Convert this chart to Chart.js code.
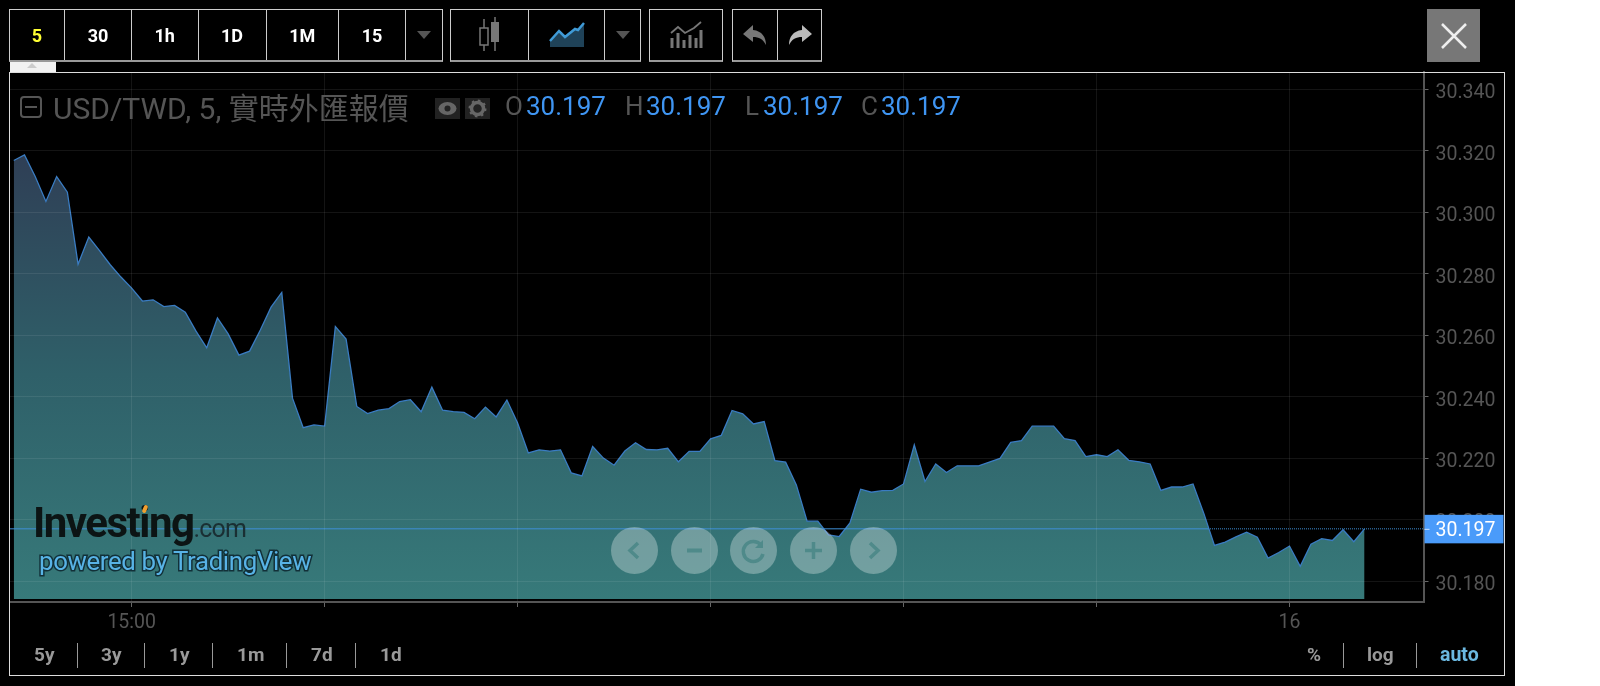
<!DOCTYPE html>
<html lang="zh-Hant">
<head>
  <meta charset="UTF-8" />
  <title>USD/TWD, 5</title>
  <script src="https://cdn.jsdelivr.net/npm/chart.js"></script>
  <style>
    html, body { margin: 0; width: 1600px; height: 686px; overflow: hidden; background: #fff; font-family: Roboto, sans-serif; }
    #page { position: absolute; left: 0; top: 0; width: 1515px; height: 686px; background: #000; }
    #chart { position: absolute; left: 0; top: 0; }
    .abs { position: absolute; white-space: nowrap; }

    .group { position: absolute; top: 9px; height: 50px; display: flex; border: 1px solid #ccc; border-bottom: 2px solid #999; }
    .cell { height: 100%; display: flex; align-items: center; justify-content: center; border-left: 1px solid #ccc; box-sizing: border-box; color: #fff; font-weight: 700; font-size: 18px; }
    .cell:first-child { border-left: none; }
    .arrow { width: 0; height: 0; border-left: 7px solid transparent; border-right: 7px solid transparent; border-top: 8px solid #555; }

    #tab { position: absolute; left: 10px; top: 62px; width: 46px; height: 10px; background: #f2f2f2; }
    #tab i { position: absolute; left: 17px; top: 1px; width: 0; height: 0; border-left: 5px solid transparent; border-right: 5px solid transparent; border-bottom: 5px solid #ccc; }
    #frame { position: absolute; left: 9px; top: 72px; width: 1494px; height: 602px; border: 1.5px solid #ddd; pointer-events: none; }
    #close { position: absolute; left: 1427px; top: 9px; width: 53px; height: 53px; background: #777; }

    .legend { font-size: 26px; line-height: 30px; top: 91px; color: #555; }
    .legend.title { font-size: 30px; line-height: 34px; top: 89px; }
    .legend.val { color: #3f95f2; }
    .iconbox { position: absolute; top: 98px; width: 25px; height: 21px; background: #222; }

    .range { top: 643px; height: 25px; line-height: 24px; font-size: 19px; font-weight: 700; color: #999; }
    .sep { position: absolute; top: 643px; width: 1px; height: 25px; background: #999; }

    .nav { position: absolute; top: 527px; width: 47px; height: 47px; border-radius: 50%; background: rgba(255,255,255,0.3); }
    .nav svg { position: absolute; left: 0; top: 0; }

    #inv { left: 33px; top: 498px; font-size: 42px; line-height: 50px; font-weight: 700; letter-spacing: -1.5px; color: #0c1414; }
    #inv span { font-size: 25px; font-weight: 400; letter-spacing: -0.8px; color: #1a2f33; }
    #flame { position: absolute; left: 143px; top: 505px; width: 4px; height: 8px; background: #f0a030; border-radius: 2px; transform: rotate(25deg); }
    #tv { left: 39px; top: 546px; font-size: 25.8px; line-height: 30px; letter-spacing: -0.35px; color: #58b3e6; -webkit-text-stroke: 3px #123038; paint-order: stroke fill; }
  </style>
</head>
<body>
  <div id="page">
    <canvas id="chart" width="1515" height="686"></canvas>

    <div class="group" style="left:9px">
      <div class="cell" style="width:54px;color:#ffff33">5</div>
      <div class="cell" style="width:67px">30</div>
      <div class="cell" style="width:66.5px">1h</div>
      <div class="cell" style="width:68px">1D</div>
      <div class="cell" style="width:72.5px">1M</div>
      <div class="cell" style="width:67px">15</div>
      <div class="cell" style="width:37px"><div class="arrow"></div></div>
    </div>
    <div class="group" style="left:450px">
      <div class="cell" style="width:77px">
        <svg width="30" height="38" viewBox="0 0 30 38">
          <path d="M9 3V35" stroke="#777" stroke-width="1.5"/>
          <rect x="5" y="12" width="8" height="17" fill="#000" stroke="#777" stroke-width="1.5"/>
          <path d="M20 1V35" stroke="#777" stroke-width="1.5"/>
          <rect x="16" y="6" width="8" height="20" fill="#777"/>
        </svg>
      </div>
      <div class="cell" style="width:76px">
        <svg width="36" height="26" viewBox="0 0 36 26">
          <path d="M1 19L10 9L16 15L26 7L29 8L35 1V25H1Z" fill="#1f4258"/>
          <path d="M1 19L10 9L16 15L26 7L29 8L35 1" fill="none" stroke="#3f9ad6" stroke-width="2.5"/>
        </svg>
      </div>
      <div class="cell" style="width:36px"><div class="arrow"></div></div>
    </div>
    <div class="group" style="left:649px">
      <div class="cell" style="width:72px">
        <svg width="34" height="28" viewBox="0 0 34 28">
          <path d="M2 12L9 6L16 12L25 7L32 1" fill="none" stroke="#777" stroke-width="1.8"/>
          <path d="M3 27V17M9 27V12M15 27V19M21 27V14M27 27V17M32 27V9" stroke="#777" stroke-width="3"/>
        </svg>
      </div>
    </div>
    <div class="group" style="left:732px">
      <div class="cell" style="width:44px">
        <svg width="26" height="22" viewBox="0 0 26 22"><path d="M11 1L1 10L11 18V13C17 13 21 15 24 21C24 13 20 7 11 6Z" fill="#777"/></svg>
      </div>
      <div class="cell" style="width:44px">
        <svg width="26" height="22" viewBox="0 0 26 22"><path d="M15 1L25 10L15 18V13C9 13 5 15 2 21C2 13 6 7 15 6Z" fill="#bbb"/></svg>
      </div>
    </div>

    <div id="close">
      <svg width="53" height="53" viewBox="0 0 53 53"><path d="M15 15L39 39M39 15L15 39" stroke="#eee" stroke-width="2.5"/></svg>
    </div>

    <div id="tab"><i></i></div>
    <div id="frame"></div>

    <svg class="abs" style="left:19px;top:95px" width="24" height="24" viewBox="0 0 24 24">
      <rect x="2" y="2" width="20" height="20" rx="3" fill="none" stroke="#555" stroke-width="2"/>
      <path d="M6 12H18" stroke="#555" stroke-width="2"/>
    </svg>
    <div class="abs legend title" style="left:53px">USD/TWD, 5, <span style="font-family:'Noto Sans CJK TC'">實時外匯報價</span></div>
    <div class="iconbox" style="left:435px">
      <svg width="25" height="21" viewBox="0 0 25 21"><ellipse cx="12.5" cy="10.5" rx="9" ry="6.5" fill="#666"/><circle cx="12.5" cy="10.5" r="3" fill="#222"/></svg>
    </div>
    <div class="iconbox" style="left:465px">
      <svg width="25" height="21" viewBox="0 0 25 21"><circle cx="12.5" cy="10.5" r="6" fill="none" stroke="#666" stroke-width="3.5"/><circle cx="12.5" cy="10.5" r="8" fill="none" stroke="#666" stroke-width="2" stroke-dasharray="2.5 3.8"/></svg>
    </div>
    <div class="abs legend" style="left:505px">O</div><div class="abs legend val" style="left:526px">30.197</div>
    <div class="abs legend" style="left:625px">H</div><div class="abs legend val" style="left:646px">30.197</div>
    <div class="abs legend" style="left:745px">L</div><div class="abs legend val" style="left:763px">30.197</div>
    <div class="abs legend" style="left:861px">C</div><div class="abs legend val" style="left:881px">30.197</div>

    <div class="abs" id="inv">Investing<span>.com</span></div>
    <div id="flame"></div>
    <div class="abs" id="tv">powered by TradingView</div>

    <div class="nav" style="left:611px"><svg width="47" height="47" viewBox="0 0 47 47"><path d="M27 16L19 23.5L27 31" fill="none" stroke="#4f8a8a" stroke-width="3.5"/></svg></div>
    <div class="nav" style="left:671px"><svg width="47" height="47" viewBox="0 0 47 47"><path d="M16 23.5H31" stroke="#4f8a8a" stroke-width="4"/></svg></div>
    <div class="nav" style="left:730px"><svg width="47" height="47" viewBox="0 0 47 47"><path d="M31 18A10 10 0 1 0 33 27" fill="none" stroke="#4f8a8a" stroke-width="3.5"/><path d="M33 13V21H25Z" fill="#4f8a8a"/></svg></div>
    <div class="nav" style="left:790px"><svg width="47" height="47" viewBox="0 0 47 47"><path d="M15 23.5H32M23.5 15V32" stroke="#4f8a8a" stroke-width="3.5"/></svg></div>
    <div class="nav" style="left:850px"><svg width="47" height="47" viewBox="0 0 47 47"><path d="M20 16L28 23.5L20 31" fill="none" stroke="#4f8a8a" stroke-width="3.5"/></svg></div>

    <div class="abs range" style="left:34px">5y</div><div class="sep" style="left:77px"></div>
    <div class="abs range" style="left:101px">3y</div><div class="sep" style="left:144px"></div>
    <div class="abs range" style="left:169px">1y</div><div class="sep" style="left:212px"></div>
    <div class="abs range" style="left:237px">1m</div><div class="sep" style="left:286px"></div>
    <div class="abs range" style="left:311px">7d</div><div class="sep" style="left:355px"></div>
    <div class="abs range" style="left:380px">1d</div>
    <div class="abs range" style="left:1307px">%</div><div class="sep" style="left:1343px"></div>
    <div class="abs range" style="left:1367px">log</div><div class="sep" style="left:1416px"></div>
    <div class="abs range" style="left:1440px;font-size:19.5px;color:#6bb8e0">auto</div>
  </div>

  <script>
    // closes, one per 5 minute bar
    const closes = [
      30.3168, 30.3186, 30.3116, 30.3035, 30.3116, 30.3065, 30.2831, 30.2919, 30.2875, 30.2829,
      30.2789, 30.2753, 30.2711, 30.2715, 30.2693, 30.2697, 30.2675, 30.2613, 30.2559, 30.2656,
      30.2604, 30.2535, 30.2548, 30.2617, 30.2691, 30.2739, 30.2395, 30.2299, 30.2308, 30.2304,
      30.2628, 30.2587, 30.2368, 30.2345, 30.2356, 30.2361, 30.2384, 30.2390, 30.2351, 30.2431,
      30.2356, 30.2351, 30.2349, 30.2328, 30.2366, 30.2334, 30.2389, 30.2314, 30.2217, 30.2227,
      30.2223, 30.2227, 30.2152, 30.2142, 30.2238, 30.2200, 30.2177, 30.2223, 30.2250, 30.2228,
      30.2227, 30.2232, 30.2188, 30.2222, 30.2222, 30.2263, 30.2274, 30.2355, 30.2344, 30.2311,
      30.2319, 30.2192, 30.2187, 30.2113, 30.1995, 30.1995, 30.1950, 30.1945, 30.1989, 30.2099,
      30.2089, 30.2094, 30.2095, 30.2116, 30.2243, 30.2124, 30.2181, 30.2153, 30.2175, 30.2175,
      30.2175, 30.2187, 30.2199, 30.2251, 30.2257, 30.2304, 30.2304, 30.2304, 30.2263, 30.2257,
      30.2205, 30.2211, 30.2205, 30.2227, 30.2193, 30.2188, 30.2181, 30.2095, 30.2106, 30.2106,
      30.2116, 30.2021, 30.1916, 30.1927, 30.1944, 30.1959, 30.1943, 30.1875, 30.1893, 30.1914,
      30.1848, 30.1920, 30.1938, 30.1932, 30.1967, 30.1928, 30.1970
    ];
    const lastPrice = 30.197;
    const priceTicks = [30.18, 30.2, 30.22, 30.24, 30.26, 30.28, 30.3, 30.32, 30.34];
    const timeTickBars = [11, 29, 47, 65, 83, 101, 119];
    const timeTickLabels = ['15:00', '', '', '', '', '', '16'];

    const xMin = -0.35, xMax = 131.5;
    const yMin = 30.1732, yMax = 30.3456;
    const areaBase = 30.1742;
    const dotsFromBar = 111.4; // price line turns dotted once it leaves the area

    function areaGradient(context) {
      const c = context.chart;
      if (!c.chartArea) return '#2f5f69';
      const g = c.ctx.createLinearGradient(0, 150, 0, 600);
      g.addColorStop(0, '#2f3e55');
      g.addColorStop(0.5, '#2f6069');
      g.addColorStop(1, '#377a7a');
      return g;
    }

    // blue label for the last price, sits on top of the axis text
    const lastPriceBox = {
      id: 'lastPriceBox',
      afterDraw(c) {
        const y = c.scales.y.getPixelForValue(lastPrice);
        const ctx = c.ctx;
        ctx.save();
        ctx.fillStyle = '#4a9bfa';
        ctx.fillRect(c.chartArea.right + 1, y - 14, 79, 28.5);
        ctx.fillStyle = '#cfe4ff';
        ctx.fillRect(c.chartArea.right + 1, y, 5, 1);
        ctx.fillStyle = '#fff';
        ctx.font = '19.5px Roboto';
        ctx.textBaseline = 'middle';
        ctx.fillText(lastPrice.toFixed(3), c.chartArea.right + 12, y + 2);
        ctx.restore();
      }
    };

    new Chart(document.getElementById('chart'), {
      type: 'line',
      data: {
        datasets: [
          {
            order: 1,
            data: closes.map((v, i) => ({ x: i, y: v })),
            borderColor: '#3a7cc2',
            borderWidth: 1.3,
            backgroundColor: areaGradient,
            fill: { value: areaBase },
            pointRadius: 0,
            tension: 0
          },
          {
            order: 0,
            data: [xMin, dotsFromBar, xMax].map(x => ({ x: x, y: lastPrice })),
            borderColor: '#3f8fd6',
            borderWidth: 1,
            segment: { borderDash: ctx => ctx.p0.parsed.x >= dotsFromBar ? [1, 1] : undefined },
            pointRadius: 0,
            fill: false
          }
        ]
      },
      options: {
        responsive: false,
        animation: false,
        layout: { padding: { left: 10, top: 72, right: 11.5, bottom: 44 } },
        plugins: { legend: { display: false }, tooltip: { enabled: false } },
        scales: {
          x: {
            type: 'linear',
            min: xMin,
            max: xMax,
            afterBuildTicks(axis) { axis.ticks = timeTickBars.map(v => ({ value: v })); },
            afterFit(axis) { axis.height = 40; },
            ticks: {
              autoSkip: false,
              maxRotation: 0,
              padding: 4,
              color: '#555',
              font: { family: 'Roboto', size: 19.5 },
              callback: v => timeTickLabels[timeTickBars.indexOf(v)]
            },
            grid: { z: 1, color: 'rgba(255,255,255,0.08)', tickColor: '#666', tickLength: 5 },
            border: { z: 2, color: '#555', width: 2 }
          },
          y: {
            position: 'right',
            min: yMin,
            max: yMax,
            afterBuildTicks(axis) { axis.ticks = priceTicks.map(v => ({ value: v })); },
            afterFit(axis) { axis.width = 80; },
            ticks: {
              padding: 7,
              labelOffset: 4,
              color: '#555',
              font: { family: 'Roboto', size: 19.5 },
              callback: v => v.toFixed(3)
            },
            grid: { z: 1, color: 'rgba(255,255,255,0.08)', tickColor: '#666', tickLength: 5 },
            border: { z: 2, color: '#555', width: 2 }
          }
        }
      },
      plugins: [lastPriceBox]
    });
  </script>
</body>
</html>
